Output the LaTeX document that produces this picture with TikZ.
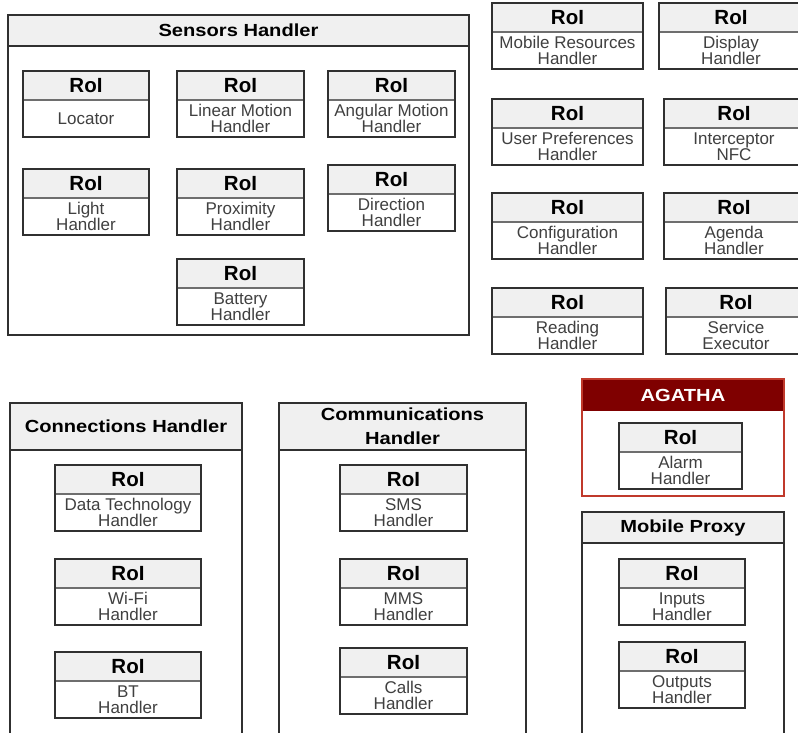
\documentclass[tikz,border=0pt]{standalone}
\usepackage{fontspec}
\setmainfont{Liberation Sans}
\newfontfamily\headfont[FakeStretch=1.15]{Liberation Sans}
\usepackage{tikz}
\usetikzlibrary{positioning,calc}
\definecolor{headgray}{HTML}{F0F0F0}
\definecolor{frameline}{HTML}{303030}
\definecolor{sepline}{HTML}{6E6E6E}
\definecolor{bodytext}{HTML}{404040}
\definecolor{agathadark}{HTML}{7F0000}
\definecolor{agathaline}{HTML}{C0392B}

% RoI box: name, left, top, width, text
\newcommand\roibox[5]{%
  \node[roihead, minimum width=#4pt] (#1-h) at (#2,-#3) {RoI};
  \node[roibody, minimum width=#4pt, below=0pt of #1-h] (#1) {#5};
  \draw[roisep] (#1-h.south west) -- (#1-h.south east);
  \draw[roiframe] (#1-h.north west) rectangle (#1.south east);
}

\begin{document}
\begin{tikzpicture}[x=1pt, y=1pt,
  roihead/.style={rectangle, anchor=north west, fill=headgray, minimum height=29pt,
    inner sep=0pt, outer sep=0pt, font=\fontsize{20.5}{22}\selectfont\bfseries},
  roibody/.style={rectangle, fill=white, minimum height=37pt, inner sep=0pt, outer sep=0pt,
    align=center, text=bodytext, font=\fontsize{17}{16.5}\selectfont},
  roisep/.style={draw=sepline, line width=1.2pt},
  roiframe/.style={draw=frameline, line width=1.7pt},
  panelhead/.style={rectangle, anchor=north west, fill=headgray, inner sep=0pt, outer sep=0pt,
    align=center, font=\headfont\fontsize{17.5}{24}\selectfont\bfseries},
  panelbody/.style={rectangle, fill=white, inner sep=0pt, outer sep=0pt},
  panelframe/.style={draw=frameline, line width=1.8pt}
]
\useasboundingbox (0,0) rectangle (798,-733);
\clip (0,0) rectangle (798,-733);

% Sensors Handler
\node[panelhead, minimum width=461pt, minimum height=31pt] (sensors-h) at (8,-15) {Sensors Handler};
\node[panelbody, minimum width=461pt, minimum height=289pt, below=0pt of sensors-h] (sensors) {};
\draw[panelframe] (sensors-h.south west) -- (sensors-h.south east);
\draw[panelframe] (sensors-h.north west) rectangle (sensors.south east);

\roibox{locator}{23}{71}{126}{Locator}
\roibox{linmotion}{177}{71}{127}{Linear Motion\\Handler}
\roibox{angmotion}{328}{71}{127}{Angular Motion\\Handler}
\roibox{light}{23}{169}{126}{Light\\Handler}
\roibox{proximity}{177}{169}{127}{Proximity\\Handler}
\roibox{direction}{328}{165}{127}{Direction\\Handler}
\roibox{battery}{177}{259}{127}{Battery\\Handler}

% free RoIs
\roibox{mobres}{492}{3}{151}{Mobile Resources\\Handler}
\roibox{display}{659}{3}{144}{Display\\Handler}
\roibox{userpref}{492}{99}{151}{User Preferences\\Handler}
\roibox{nfc}{664}{99}{140}{Interceptor\\NFC}
\roibox{config}{492}{193}{151}{Configuration\\Handler}
\roibox{agenda}{664}{193}{140}{Agenda\\Handler}
\roibox{reading}{492}{288}{151}{Reading\\Handler}
\roibox{service}{666}{288}{140}{Service\\Executor}

% Connections Handler
\node[panelhead, minimum width=232pt, minimum height=47pt] (conn-h) at (10,-403) {Connections Handler};
\node[panelbody, minimum width=232pt, minimum height=290pt, below=0pt of conn-h] (conn) {};
\draw[panelframe] (conn-h.south west) -- (conn-h.south east);
\draw[panelframe] (conn-h.north west) rectangle (conn.south east);

\roibox{datatech}{55}{465}{146}{Data Technology\\Handler}
\roibox{wifi}{55}{559}{146}{Wi-Fi\\Handler}
\roibox{bt}{55}{652}{146}{BT\\Handler}

% Communications Handler
\node[panelhead, minimum width=247pt, minimum height=47pt] (comm-h) at (279,-403) {Communications\\Handler};
\node[panelbody, minimum width=247pt, minimum height=290pt, below=0pt of comm-h] (comm) {};
\draw[panelframe] (comm-h.south west) -- (comm-h.south east);
\draw[panelframe] (comm-h.north west) rectangle (comm.south east);

\roibox{sms}{340}{465}{127}{SMS\\Handler}
\roibox{mms}{340}{559}{127}{MMS\\Handler}
\roibox{calls}{340}{648}{127}{Calls\\Handler}

% AGATHA
\node[panelhead, fill=agathadark, text=white, minimum width=202pt, minimum height=32pt] (agatha-h) at (582,-379) {AGATHA};
\node[panelbody, minimum width=202pt, minimum height=85pt, below=0pt of agatha-h] (agatha) {};
\draw[panelframe, draw=agathaline] (agatha-h.north west) rectangle (agatha.south east);

\roibox{alarm}{619}{423}{123}{Alarm\\Handler}

% Mobile Proxy
\node[panelhead, minimum width=202pt, minimum height=31pt] (proxy-h) at (582,-512) {Mobile Proxy};
\node[panelbody, minimum width=202pt, minimum height=197pt, below=0pt of proxy-h] (proxy) {};
\draw[panelframe] (proxy-h.south west) -- (proxy-h.south east);
\draw[panelframe] (proxy-h.north west) rectangle (proxy.south east);

\roibox{inputs}{619}{559}{126}{Inputs\\Handler}
\roibox{outputs}{619}{642}{126}{Outputs\\Handler}
\end{tikzpicture}
\end{document}
